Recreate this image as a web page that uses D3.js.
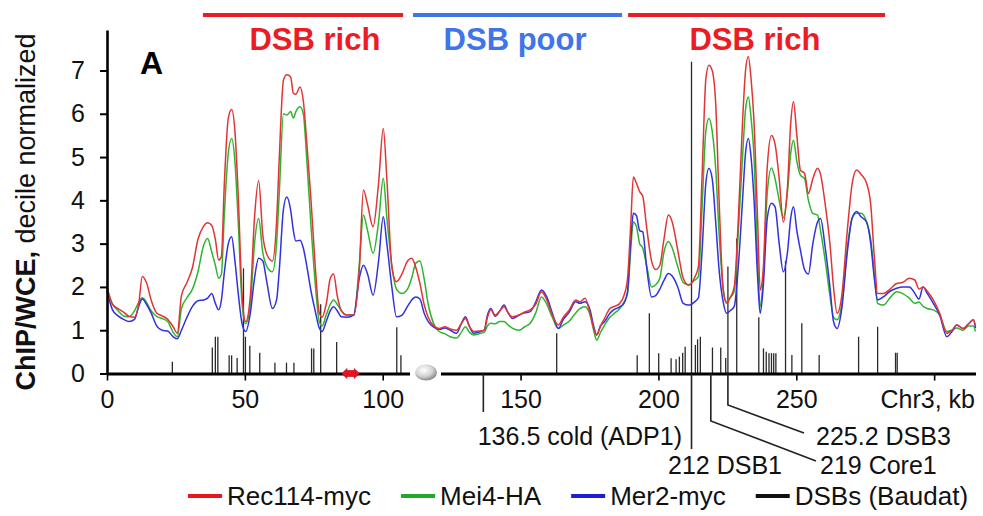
<!DOCTYPE html>
<html>
<head>
<meta charset="utf-8">
<script src="https://cdn.jsdelivr.net/npm/d3@7"></script>
<style>
  html, body { margin: 0; padding: 0; background: #fff; }
  svg { display: block; font-family: "Liberation Sans", Arial, sans-serif; }
</style>
</head>
<body>
<svg id="chart" width="983" height="516"></svg>
<script>
// Chromosome III coordinates (kb) at which the three ChIP profiles are sampled
const positionsKb = [
  0, 2, 4, 6, 8, 10, 11.5, 12.8, 14.3, 16,
  18, 20, 22, 24, 25.5, 27, 29, 31, 33, 35,
  36.5, 38, 39.3, 40.5, 41.5, 42.5, 44, 45.2, 46.4, 47.6,
  49, 50.3, 52, 53.5, 55, 56.5, 58, 60, 61.5, 62.5,
  64, 65.2, 66.6, 67.6, 68.5, 70, 71.2, 72.5, 74, 75.5,
  77, 78, 79.5, 81, 82.2, 83.5, 85, 87, 89.5, 91.5,
  93, 94.5, 96.5, 98.5, 100.2, 101.5, 103.3, 105, 107, 109,
  110.5, 112, 113.5, 115, 116.5, 118.5, 120.5, 122.5, 124.5, 126.8,
  128.5, 130, 131.5, 133, 135, 136.8, 138, 139.2, 140.8, 142.5,
  144, 145.5, 147, 149.5, 151.5, 153.5, 155.5, 157.6, 159.5, 161.5,
  163.7, 165.5, 167.5, 170, 171.5, 173.4, 175.2, 176.5, 177.6, 179,
  180.5, 182.4, 184, 186, 187.5, 188.8, 190, 190.9, 192, 193.2,
  194.3, 195.7, 197.5, 199, 200.5, 202, 203.6, 205, 207, 209,
  211, 213, 214.5, 215.8, 217.2, 218.3, 219.5, 220.8, 222, 223.5,
  224.7, 226, 227.5, 229, 230.5, 231.6, 232.6, 233.6, 234.6, 236,
  236.9, 238, 239.5, 241, 242.3, 243.8, 245.3, 246.8, 248, 249,
  250.2, 251.5, 253, 254.4, 256, 257.7, 258.8, 260.5, 262.2, 263.5,
  264.8, 266.5, 268.5, 270.3, 271.9, 273.5, 275.5, 277, 278.3, 279.5,
  281.6, 284, 286.4, 288.5, 291, 293, 294.5, 296, 297.5, 299.7,
  302, 304.6, 306.5, 308.2, 310.5, 312.5, 314.2, 315
];

// Rec114-myc ChIP/WCE
const rec114 = [
  2.0, 1.6, 1.5, 1.42, 1.32, 1.3, 1.6, 2.24, 2.1, 1.7,
  1.4, 1.33, 1.25, 1.08, 0.93, 1.8, 2.1, 2.45, 3.1, 3.4,
  3.48, 3.42, 3.1, 2.62, 2.7, 4.3, 5.9, 6.1, 5.6, 4.1,
  1.8, 1.2, 1.8, 3.6, 4.45, 3.2, 2.75, 2.6, 3.5, 5.0,
  6.78, 6.9, 6.85, 6.47, 6.45, 6.62, 6.3, 5.3, 4.0, 2.5,
  1.4, 1.3, 1.6, 2.2, 2.3, 1.8, 1.45, 1.35, 1.35, 2.4,
  4.24, 3.9, 3.39, 4.4, 5.66, 4.5, 2.47, 2.12, 2.3, 2.6,
  2.66, 2.45, 2.08, 1.6, 1.3, 1.1, 1.04, 1.08, 1.03, 1.0,
  1.15, 1.27, 1.08, 0.97, 0.98, 1.0, 1.3, 1.47, 1.35, 1.45,
  1.54, 1.4, 1.31, 1.35, 1.42, 1.47, 1.6, 1.89, 1.7, 1.35,
  1.12, 1.3, 1.45, 1.7, 1.66, 1.74, 1.39, 1.05, 0.89, 1.1,
  1.28, 1.5, 1.55, 1.62, 1.8, 2.2, 3.5, 4.54, 4.4, 4.2,
  4.1, 3.39, 2.6, 2.4, 2.5, 3.1, 3.66, 3.5, 2.85, 2.2,
  2.04, 2.2, 2.47, 4.5, 6.8, 7.12, 7.0, 6.2, 4.0, 1.93,
  1.62, 1.75, 2.0, 3.6, 5.8, 7.0, 7.32, 6.8, 5.9, 3.5,
  1.93, 2.4, 4.8, 5.5, 5.3, 4.5, 3.5, 4.3, 5.8, 6.28,
  5.5, 4.7, 4.62, 4.16, 4.5, 4.74, 4.6, 3.9, 3.0, 2.0,
  1.39, 1.8, 3.3, 4.4, 4.7, 4.6, 4.39, 3.9, 2.7, 1.85,
  1.85, 1.95, 2.08, 2.1, 2.2, 2.16, 1.95, 2.0, 1.9, 1.7,
  1.39, 0.93, 1.0, 1.12, 1.04, 1.15, 1.24, 1.1
];

// Mei4-HA ChIP/WCE
const mei4 = [
  1.95, 1.6, 1.45, 1.33, 1.31, 1.45, 1.65, 1.75, 1.65, 1.45,
  1.32, 1.27, 1.2, 0.95, 0.85, 1.5, 1.75, 1.95, 2.35, 2.95,
  3.12, 2.8, 2.5, 2.2, 2.3, 3.6, 5.1, 5.43, 4.9, 3.5,
  1.6, 1.15, 1.6, 3.0, 3.58, 2.8, 2.47, 2.35, 3.0, 4.2,
  6.0, 5.97, 6.05, 5.9, 6.05, 6.16, 6.0, 4.9, 3.4, 2.1,
  1.2, 1.1, 1.35, 1.6, 1.7, 1.6, 1.45, 1.35, 1.35, 2.5,
  3.66, 3.3, 2.78, 3.5, 4.51, 3.6, 2.5, 1.95, 1.85, 1.95,
  2.2, 2.55, 2.6, 2.2, 1.6, 1.15, 0.97, 0.92, 0.85, 0.82,
  0.95, 1.08, 0.95, 0.89, 0.92, 0.95, 1.1, 1.16, 1.15, 1.2,
  1.2, 1.12, 1.05, 1.0, 1.08, 1.16, 1.4, 1.77, 1.6, 1.3,
  1.04, 1.12, 1.2, 1.4, 1.5, 1.54, 1.35, 1.0, 0.77, 0.95,
  1.12, 1.3, 1.39, 1.5, 1.65, 1.85, 2.9, 3.5, 3.4, 3.0,
  2.9, 2.5, 2.0, 2.05, 2.2, 2.8, 3.05, 2.9, 2.47, 2.1,
  2.05, 2.15, 2.24, 3.8, 5.6, 5.89, 5.6, 4.7, 3.24, 1.95,
  1.66, 1.75, 1.9, 3.3, 5.0, 6.1, 6.39, 5.9, 5.1, 2.6,
  1.54, 2.2, 4.2, 4.75, 4.5, 4.0, 3.6, 4.2, 5.1, 5.39,
  4.9, 4.58, 4.5, 4.0, 3.7, 3.66, 3.3, 2.6, 1.8, 1.3,
  1.24, 1.6, 2.9, 3.6, 3.7, 3.7, 3.5, 3.1, 2.3, 1.62,
  1.58, 1.75, 1.89, 1.85, 1.74, 1.62, 1.65, 1.55, 1.5, 1.47,
  1.35, 0.97, 1.0, 1.05, 1.0, 1.1, 1.1, 0.97
];

// Mer2-myc ChIP/WCE
const mer2 = [
  1.9, 1.47, 1.33, 1.25, 1.2, 1.25, 1.55, 1.72, 1.6, 1.4,
  1.1, 1.0, 0.98, 0.85, 0.8, 1.0, 1.3, 1.55, 1.68, 1.7,
  1.74, 1.85, 1.62, 1.47, 1.7, 2.3, 3.0, 3.16, 2.6, 1.85,
  1.15, 0.97, 1.4, 2.2, 2.66, 2.6, 2.1, 1.5, 1.7, 2.4,
  3.8, 4.08, 3.78, 3.3, 3.06, 3.08, 2.9, 2.47, 1.9, 1.45,
  1.05, 0.97, 1.2, 1.45, 1.54, 1.45, 1.31, 1.3, 1.35, 2.2,
  2.5, 2.3, 1.81, 2.6, 3.62, 3.0, 2.0, 1.31, 1.35, 1.55,
  1.7, 1.77, 1.72, 1.4, 1.2, 1.07, 1.02, 1.05, 1.0, 0.93,
  1.15, 1.31, 1.08, 0.93, 0.96, 1.0, 1.35, 1.5, 1.32, 1.45,
  1.58, 1.4, 1.27, 1.35, 1.4, 1.43, 1.65, 1.93, 1.77, 1.4,
  1.04, 1.25, 1.4, 1.66, 1.62, 1.66, 1.47, 1.1, 0.89, 1.1,
  1.2, 1.39, 1.48, 1.54, 1.62, 1.9, 3.1, 3.7, 3.65, 3.3,
  3.27, 2.47, 1.77, 1.8, 1.95, 2.15, 2.31, 2.25, 2.0, 1.62,
  1.58, 1.65, 1.75, 2.8, 4.4, 4.74, 4.5, 3.47, 2.4, 1.65,
  1.39, 1.45, 1.55, 2.5, 4.0, 5.1, 5.43, 5.0, 4.1, 2.2,
  1.39, 2.0, 3.6, 3.93, 3.85, 3.0, 2.35, 2.8, 3.6, 3.85,
  3.3, 2.85, 2.4, 2.3, 3.0, 3.5, 3.58, 2.9, 2.0, 1.2,
  1.04, 1.5, 2.8, 3.6, 3.74, 3.62, 3.5, 3.0, 2.2, 1.7,
  1.77, 1.9, 1.97, 2.0, 2.0, 1.85, 1.72, 2.0, 1.85, 1.62,
  1.35, 0.85, 0.97, 1.12, 1.04, 1.15, 1.24, 1.05
];

// Meiotic DSB sites (Baudat): position (kb) and relative strength
const dsbKb = [
  23.7, 38.2, 39.3, 40.2, 44.3, 45.2, 47.2, 49.5, 50.2, 51.8,
  55.4, 60.9, 65.1, 67.8, 74.2, 75.0, 77.5, 83.3, 105.1, 106.6,
  163.1, 192.3, 196.7, 200.1, 204.6, 206.4, 207.6, 208.8, 209.7, 212,
  213.4, 214.2, 215.2, 219.6, 222.6, 224.4, 225.2, 228.4, 236.4, 238.1,
  239.1, 240.1, 241.0, 241.8, 242.6, 246.1, 248.4, 252.0, 258.3, 272.6,
  279.5, 286.0, 286.6
];
const dsbHeight = [
  0.27, 0.6, 0.85, 0.85, 0.42, 0.42, 0.36, 2.43, 0.85, 0.64,
  0.48, 0.25, 0.25, 0.25, 0.58, 0.58, 1.6, 0.73, 1.07, 0.42,
  0.93, 0.42, 1.39, 0.47, 0.35, 0.33, 0.39, 0.48, 0.62, 7.2,
  0.66, 0.79, 0.85, 0.6, 0.6, 0.36, 2.47, 3.12, 1.3, 0.58,
  0.5, 0.47, 0.47, 0.47, 0.47, 2.6, 0.43, 1.16, 0.43, 0.85,
  1.08, 0.48, 0.48
];

// Axis ticks
const yTicks = [0, 1, 2, 3, 4, 5, 6, 7];
const xTicks = [0, 50, 100, 150, 200, 250, 300];
const xTickLabels = ["0", "50", "100", "150", "200", "250", ""];

// Regions marked above the plot
const bandFromKb = [34.8, 111.0, 189.0];
const bandToKb = [107.4, 186.8, 282.2];
const bandLabelKb = [75.4, 148.0, 235.0];
const bandLabels = ["DSB rich", "DSB poor", "DSB rich"];

// Loci called out beneath the axis
const calloutKb = [136.5, 212, 219, 225.2];
const calloutLabels = ["136.5 cold (ADP1)", "212 DSB1", "219 Core1", "225.2 DSB3"];

// Centromere and the double-headed arrow on the axis
const centromereKb = 115.7;
const arrowSpanKb = [85.2, 91.5];

const seriesNames = ["Rec114-myc", "Mei4-HA", "Mer2-myc", "DSBs (Baudat)"];

// ---------------------------------------------------------------
const svg = d3.select("#chart");

const lineColors = { rec: "#e23434", mei: "#2fb52f", mer: "#3131e0" };
const legendColors = ["#e8161c", "#1fa82a", "#1c1cd8", "#111111"];
const bandColors = ["#ec1c24", "#3f74ea", "#ec1c24"];

const x = d3.scaleLinear().domain([0, 315]).range([107, 975.5]);
const y = d3.scaleLinear().domain([0, 7.935]).range([373.5, 30]);

// DSB sticks
svg.append("g").selectAll("line")
  .data(dsbKb.map((k, i) => ({ k, h: dsbHeight[i] })))
  .join("line")
  .attr("x1", d => x(d.k)).attr("x2", d => x(d.k))
  .attr("y1", y(0)).attr("y2", d => y(d.h))
  .attr("stroke", "#2a2a2a").attr("stroke-width", 1.3);

// Profiles
const line = d3.line()
  .x(d => x(d.k)).y(d => y(d.v))
  .curve(d3.curveMonotoneX);

const toPts = arr => positionsKb.map((k, i) => ({ k, v: arr[i] }));

[[mei4, lineColors.mei], [mer2, lineColors.mer], [rec114, lineColors.rec]].forEach(([arr, col]) => {
  svg.append("path")
    .attr("d", line(toPts(arr)))
    .attr("fill", "none")
    .attr("stroke", col)
    .attr("stroke-width", 1.5)
    .attr("stroke-linejoin", "round");
});

// Axes
const yAxis = svg.append("g")
  .attr("transform", `translate(${x(0)},0)`)
  .call(d3.axisLeft(y).tickValues(yTicks).tickSize(7).tickSizeOuter(0).tickPadding(15).tickFormat(d3.format("d")));
yAxis.select(".domain").attr("stroke", "#000").attr("stroke-width", 2.6);
yAxis.selectAll(".tick line").attr("stroke", "#000").attr("stroke-width", 2);
yAxis.selectAll("text").attr("font-size", 25).attr("fill", "#111").attr("font-family", "Liberation Sans, Arial, sans-serif");

const xAxis = svg.append("g")
  .attr("transform", `translate(0,${y(0)})`)
  .call(d3.axisBottom(x).tickValues(xTicks).tickSize(7).tickSizeOuter(0).tickPadding(10)
    .tickFormat((d, i) => xTickLabels[i]));
xAxis.select(".domain").attr("stroke", "#000").attr("stroke-width", 3);
xAxis.selectAll(".tick line").attr("stroke", "#000").attr("stroke-width", 1.6);
xAxis.selectAll("text").attr("font-size", 25).attr("fill", "#111").attr("font-family", "Liberation Sans, Arial, sans-serif");

svg.append("text")
  .attr("x", 975).attr("y", 408)
  .attr("text-anchor", "end")
  .attr("font-size", 25).attr("fill", "#111")
  .text("Chr3, kb");

// Centromere: gap in the axis and a shaded bead
const cx = x(centromereKb);
svg.append("rect")
  .attr("x", cx - 16).attr("y", y(0) - 3).attr("width", 31).attr("height", 6)
  .attr("fill", "#fff");
const grad = svg.append("defs").append("radialGradient")
  .attr("id", "bead").attr("cx", "40%").attr("cy", "35%").attr("r", "65%");
grad.append("stop").attr("offset", "0%").attr("stop-color", "#ffffff");
grad.append("stop").attr("offset", "60%").attr("stop-color", "#d4d4d4");
grad.append("stop").attr("offset", "100%").attr("stop-color", "#8a8a8a");
svg.append("ellipse")
  .attr("cx", cx).attr("cy", y(0) - 1).attr("rx", 11).attr("ry", 8)
  .attr("fill", "url(#bead)");

// Double-headed red arrow on the axis
{
  const a = x(arrowSpanKb[0]), b = x(arrowSpanKb[1]), cy = y(0);
  const head = 5, shaft = 3, tip = 5;
  const p = [
    [a, cy], [a + head, cy - tip], [a + head, cy - shaft], [b - head, cy - shaft],
    [b - head, cy - tip], [b, cy], [b - head, cy + tip], [b - head, cy + shaft],
    [a + head, cy + shaft], [a + head, cy + tip]
  ];
  svg.append("path")
    .attr("d", "M" + p.map(q => q.join(",")).join("L") + "Z")
    .attr("fill", "#e8141c").attr("stroke", "#b00010").attr("stroke-width", 0.6);
}

// Region bars and labels on top
bandLabels.forEach((lab, i) => {
  svg.append("line")
    .attr("x1", x(bandFromKb[i])).attr("x2", x(bandToKb[i]))
    .attr("y1", 15).attr("y2", 15)
    .attr("stroke", bandColors[i]).attr("stroke-width", 4);
  svg.append("text")
    .attr("x", x(bandLabelKb[i])).attr("y", 50)
    .attr("text-anchor", "middle")
    .attr("font-size", 31).attr("font-weight", "bold")
    .attr("fill", bandColors[i])
    .text(lab);
});

// Panel letter
svg.append("text")
  .attr("x", 140).attr("y", 74)
  .attr("font-size", 32).attr("font-weight", "bold").attr("fill", "#000")
  .text("A");

// Y-axis title
const yt = svg.append("text")
  .attr("transform", "translate(35,212) rotate(-90)")
  .attr("text-anchor", "middle")
  .attr("font-size", 27).attr("fill", "#111");
yt.append("tspan").attr("font-weight", "bold").text("ChIP/WCE,");
yt.append("tspan").text(" decile normalized");

// Callouts beneath the axis
function poly(pts) {
  svg.append("path").attr("d", d3.line()(pts))
    .attr("stroke", "#222").attr("stroke-width", 1.6).attr("fill", "none");
}
const y0 = y(0);
poly([[x(calloutKb[0]), y0], [x(calloutKb[0]), 412]]);
poly([[x(calloutKb[1]), y0], [x(calloutKb[1]), 449]]);
poly([[x(calloutKb[2]), y0], [x(calloutKb[2]), 421], [816, 461]]);
poly([[x(calloutKb[3]), y0], [x(calloutKb[3]), 405], [804, 433]]);

const calloutPos = [
  { x: 682, y: 445, anchor: "end" },
  { x: 668, y: 474, anchor: "start" },
  { x: 820, y: 474, anchor: "start" },
  { x: 816, y: 445, anchor: "start" }
];
calloutLabels.forEach((t, i) => {
  svg.append("text")
    .attr("x", calloutPos[i].x).attr("y", calloutPos[i].y)
    .attr("text-anchor", calloutPos[i].anchor)
    .attr("font-size", 25).attr("fill", "#111")
    .text(t);
});

// Legend
{
  let lx = 188;
  const ly = 496;
  seriesNames.forEach((name, i) => {
    svg.append("line")
      .attr("x1", lx).attr("x2", lx + 34).attr("y1", ly).attr("y2", ly)
      .attr("stroke", legendColors[i]).attr("stroke-width", 4);
    const t = svg.append("text")
      .attr("x", lx + 39).attr("y", ly + 9)
      .attr("font-size", 26).attr("fill", "#111")
      .text(name);
    lx += 39 + t.node().getComputedTextLength() + 30;
  });
}
</script>
</body>
</html>
